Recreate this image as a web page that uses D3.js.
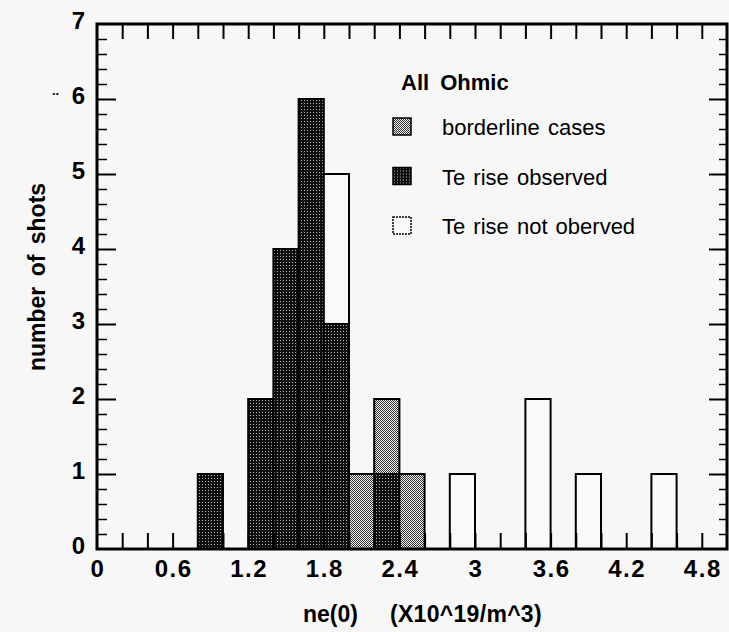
<!DOCTYPE html>
<html>
<head>
<meta charset="utf-8">
<script src="https://cdn.jsdelivr.net/npm/d3@7/dist/d3.min.js"></script>
<style>
  html, body { margin: 0; padding: 0; background: #f7f7f7; }
  svg { display: block; }
  text { font-family: "Liberation Sans", Arial, Helvetica, sans-serif; fill: #000; }
</style>
</head>
<body>
<svg id="chart" width="729" height="632"></svg>
<script>
// ---- data ----
const binStarts   = [0.8, 1.2, 1.4, 1.6, 1.8, 2.0, 2.2, 2.4, 2.8, 3.4, 3.8, 4.4];
const observed    = [1,   2,   4,   6,   3,   0,   1,   0,   0,   0,   0,   0];
const borderline  = [0,   0,   0,   0,   0,   1,   1,   1,   0,   0,   0,   0];
const notObserved = [0,   0,   0,   0,   2,   0,   0,   0,   1,   2,   1,   1];
const binWidth = 0.2;
const xTickLabels = ["0", "0.6", "1.2", "1.8", "2.4", "3", "3.6", "4.2", "4.8"];
const yTickLabels = ["0", "1", "2", "3", "4", "5", "6", "7"];
const seriesKeys   = ["observed", "borderline", "notObserved"];
const legendLabels = ["borderline cases", "Te rise observed", "Te rise not oberved"];
const legendKeys   = ["borderline", "observed", "notObserved"];

const svg = d3.select("#chart");
const L = 97, R = 727, T = 24, B = 549;
const x = d3.scaleLinear().domain([0, 5]).range([L, R]);
const y = d3.scaleLinear().domain([0, 7]).range([B, T]);

// patterns
const defs = svg.append("defs");
const pDark = defs.append("pattern").attr("id", "pDark").attr("patternUnits", "userSpaceOnUse")
  .attr("width", 3).attr("height", 3);
pDark.append("rect").attr("width", 3).attr("height", 3).attr("fill", "#0e0e0e");
pDark.append("rect").attr("x", 1).attr("y", 1).attr("width", 1).attr("height", 1).attr("fill", "#b8b8b8");
const pBord = defs.append("pattern").attr("id", "pBord").attr("patternUnits", "userSpaceOnUse")
  .attr("width", 2).attr("height", 2);
pBord.append("rect").attr("width", 2).attr("height", 2).attr("fill", "#f2f2f2");
pBord.append("rect").attr("x", 0).attr("y", 0).attr("width", 1).attr("height", 1).attr("fill", "#333");
pBord.append("rect").attr("x", 1).attr("y", 1).attr("width", 1).attr("height", 1).attr("fill", "#333");

const fills = { observed: "url(#pDark)", borderline: "url(#pBord)", notObserved: "#f9f9f9" };

// bars
const table = binStarts.map((b, i) => ({
  bin: b, observed: observed[i], borderline: borderline[i], notObserved: notObserved[i]
}));
const stacked = d3.stack().keys(seriesKeys)(table);
stacked.forEach(layer => {
  svg.append("g").selectAll("rect")
    .data(layer.filter(d => d[1] > d[0]))
    .join("rect")
    .attr("x", d => x(d.data.bin))
    .attr("width", d => x(d.data.bin + binWidth) - x(d.data.bin))
    .attr("y", d => y(d[1]))
    .attr("height", d => y(d[0]) - y(d[1]))
    .attr("fill", fills[layer.key])
    .attr("stroke", "#000")
    .attr("stroke-width", 2);
});

// minor ticks (every 0.2) on top and bottom, inward
const minorX = d3.range(1, 25).map(i => i * 0.2);
svg.append("g").attr("transform", `translate(0,${B})`)
  .call(d3.axisTop(x).tickValues(minorX).tickSize(16).tickFormat(""))
  .call(g => g.select(".domain").remove())
  .call(g => g.selectAll("line").attr("stroke-width", 2));
svg.append("g").attr("transform", `translate(0,${T})`)
  .call(d3.axisBottom(x).tickValues(minorX).tickSize(15).tickFormat(""))
  .call(g => g.select(".domain").remove())
  .call(g => g.selectAll("line").attr("stroke-width", 2));

// y ticks left/right
const minorY = d3.range(1, 35).map(i => i * 0.2).filter(v => Math.abs(v - Math.round(v)) > 1e-6);
const majorY = yTickLabels.map(Number).filter(v => v > 0 && v < 7);
svg.append("g").attr("transform", `translate(${L},0)`)
  .call(d3.axisRight(y).tickValues(minorY).tickSize(10).tickFormat(""))
  .call(g => g.select(".domain").remove())
  .call(g => g.selectAll("line").attr("stroke-width", 1.5));
svg.append("g").attr("transform", `translate(${L},0)`)
  .call(d3.axisRight(y).tickValues(majorY).tickSize(19).tickFormat(""))
  .call(g => g.select(".domain").remove())
  .call(g => g.selectAll("line").attr("stroke-width", 2));
svg.append("g").attr("transform", `translate(${R},0)`)
  .call(d3.axisLeft(y).tickValues(minorY).tickSize(8).tickFormat(""))
  .call(g => g.select(".domain").remove())
  .call(g => g.selectAll("line").attr("stroke-width", 1.5));
svg.append("g").attr("transform", `translate(${R},0)`)
  .call(d3.axisLeft(y).tickValues(majorY).tickSize(18).tickFormat(""))
  .call(g => g.select(".domain").remove())
  .call(g => g.selectAll("line").attr("stroke-width", 2));

// frame
svg.append("rect").attr("x", L).attr("y", T).attr("width", R - L).attr("height", B - T)
  .attr("fill", "none").attr("stroke", "#000").attr("stroke-width", 3);

// tick labels
svg.append("g").selectAll("text").data(xTickLabels).join("text")
  .attr("x", d => x(+d) + 1).attr("y", 577)
  .attr("text-anchor", "middle")
  .attr("font-size", 24).attr("font-weight", "bold").attr("letter-spacing", 1.5)
  .text(d => d);
svg.append("g").selectAll("text").data(yTickLabels).join("text")
  .attr("x", 85).attr("y", d => y(+d) + 4.5)
  .attr("text-anchor", "end")
  .attr("font-size", 24).attr("font-weight", "bold")
  .text(d => d);

// axis titles
svg.append("text").attr("x", 303).attr("y", 622)
  .attr("font-size", 23).attr("font-weight", "bold")
  .text("ne(0)");
svg.append("text").attr("x", 390).attr("y", 622)
  .attr("font-size", 23).attr("font-weight", "bold").attr("letter-spacing", 0.3)
  .text("(X10^19/m^3)");
svg.append("text").attr("transform", "translate(45,277) rotate(-90)")
  .attr("text-anchor", "middle")
  .attr("font-size", 23).attr("font-weight", "bold").attr("word-spacing", 4)
  .text("number of shots");
svg.append("text").attr("x", 52).attr("y", 95).attr("font-size", 13).attr("font-weight", "bold").text("..");

// legend
svg.append("text").attr("x", 401).attr("y", 90)
  .attr("font-size", 22).attr("font-weight", "bold").attr("word-spacing", 5)
  .text("All Ohmic");
const lg = svg.append("g").selectAll("g").data(legendKeys).join("g")
  .attr("transform", (d, i) => `translate(0,${i * 49.5})`);
lg.append("rect").attr("x", 393).attr("y", 118).attr("width", 18).attr("height", 17)
  .attr("fill", d => fills[d]).attr("stroke", "#000").attr("stroke-width", 1.5)
  .attr("stroke-dasharray", d => d === "notObserved" ? "2,1" : null);
lg.append("text").attr("x", 442).attr("y", 135)
  .attr("font-size", 22).attr("word-spacing", 2)
  .text((d, i) => legendLabels[i]);
</script>
</body>
</html>
